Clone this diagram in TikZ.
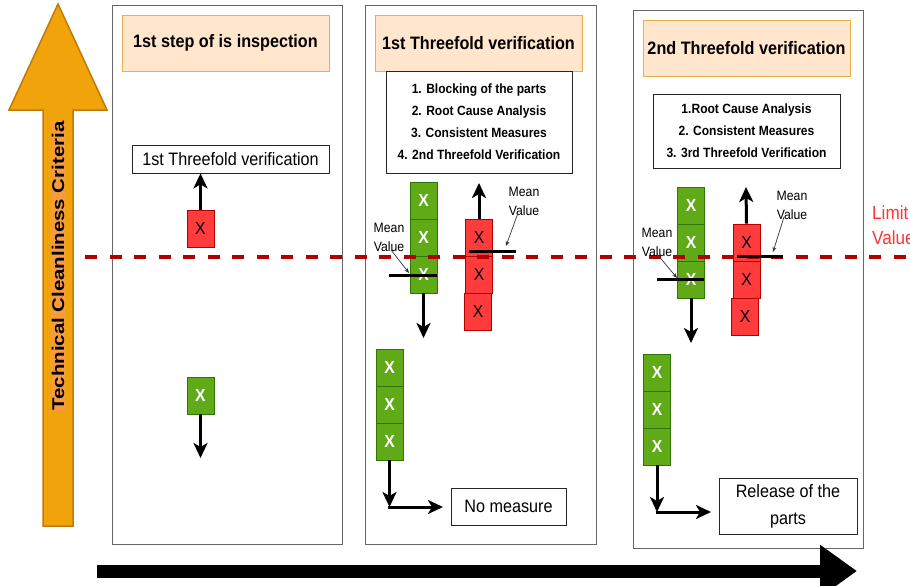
\documentclass[tikz,border=0pt]{standalone}
\usepackage{fontspec}
\setmainfont{Liberation Sans}
\newfontfamily\narrowfont[FakeStretch=0.9]{Liberation Sans}
\newfontfamily\wideboldfont[FakeStretch=1.2]{Liberation Sans}
\usetikzlibrary{arrows.meta}
\definecolor{panelgray}{HTML}{666666}
\definecolor{hdrfill}{HTML}{FFE6CC}
\definecolor{hdrborder}{HTML}{E8B04A}
\definecolor{gfill}{HTML}{60A917}
\definecolor{gborder}{HTML}{2D7600}
\definecolor{rfill}{HTML}{FF3B3B}
\definecolor{rborder}{HTML}{B20000}
\definecolor{limitred}{HTML}{B20000}
\definecolor{limittext}{HTML}{FF3333}
\definecolor{orfill}{HTML}{F0A30A}
\definecolor{orborder}{HTML}{C27A06}
\definecolor{ortextbg}{HTML}{F89B3C}
\tikzset{
  panel/.style={draw=panelgray, line width=1pt, fill=white, inner sep=0pt},
  header/.style={draw=hdrborder, fill=hdrfill, line width=0.8pt, inner sep=0pt,
    font=\narrowfont\bfseries\fontsize{18}{21}\selectfont},
  listbox/.style={draw=black!85, fill=white, line width=0.8pt, inner sep=0pt, align=center,
    font=\narrowfont\bfseries\fontsize{13.4}{22}\selectfont},
  plainbox/.style={draw=black!85, fill=white, line width=0.8pt, inner sep=0pt, align=center,
    font=\narrowfont\fontsize{18}{27}\selectfont},
  gcell/.style={draw=gborder, fill=gfill, line width=0.6pt, minimum width=27pt, minimum height=37pt,
    inner sep=0pt, text=white, font=\narrowfont\bfseries\fontsize{17.5}{17.5}\selectfont},
  rcell/.style={draw=rborder, fill=rfill, line width=0.6pt, minimum width=27pt, minimum height=37pt,
    inner sep=0pt, text=black, font=\narrowfont\fontsize{17.5}{17.5}\selectfont},
  arr/.style={line width=3pt, -{Stealth[length=15pt,width=14pt,inset=4pt]}},
  meanline/.style={line width=3pt, draw=black},
  leader/.style={line width=0.7pt, draw=black!80, -{Stealth[length=5pt,width=4pt]}},
  meanlabel/.style={align=center, inner sep=0pt, font=\narrowfont\fontsize{13.6}{19}\selectfont},
  limitline/.style={draw=limitred, line width=4pt, dash pattern=on 12pt off 12.5pt},
}
\begin{document}
\begin{tikzpicture}[x=1pt,y=-1pt]
\useasboundingbox (0,0) rectangle (910,586);

% orange axis arrow
\filldraw[draw=orborder, fill=orfill, line width=1.5pt, line join=miter]
  (58,4) -- (107,110) -- (73,110) -- (73,526) -- (43,526) -- (43,110) -- (9,110) -- cycle;
\node[rotate=90, fill=ortextbg, inner sep=1pt, font=\wideboldfont\bfseries\fontsize{17}{17}\selectfont] (axis) at (58,266) {Technical Cleanliness Criteria};

% panels
\node[panel, minimum width=230pt, minimum height=538pt] (p1) at (227,275) {};
\node[panel, minimum width=231pt, minimum height=538pt] (p2) at (480.5,275) {};
\node[panel, minimum width=230pt, minimum height=537pt] (p3) at (748,279.5) {};

% headers
\node[header, minimum width=207pt, minimum height=56pt] (h1) at (225.5,43) {1st step of is inspection};
\node[header, minimum width=207pt, minimum height=56pt] (h2) at (478.5,43) {1st Threefold verification};
\node[header, minimum width=207pt, minimum height=56pt] (h3) at (746.5,48) {2nd Threefold verification};

% lists
\node[listbox, minimum width=186pt, minimum height=102pt] (l2) at (479,122)
  {1. Blocking of the parts\\2. Root Cause Analysis\\3. Consistent Measures\\4. 2nd Threefold Verification};
\node[listbox, minimum width=187pt, minimum height=74pt] (l3) at (746.5,131)
  {1.Root Cause Analysis\\2. Consistent Measures\\3. 3rd Threefold Verification};

% panel 1
\node[plainbox, minimum width=197pt, minimum height=28pt] (t1) at (230.5,159) {1st Threefold verification};
\node[rcell, minimum height=37pt] (r1) at (200.5,228.5) {X};
\node[gcell, minimum height=37pt] (g1) at (200.5,395.5) {X};
\coordinate (g1end) at (200.5,458);
\draw[arr] (r1.north) -- (r1.north |- t1.south);
\draw[arr] (g1.south) -- (g1end);

% panel 2 columns
\node[gcell] (g2a) at (423.5,200.5) {X};
\node[gcell] (g2b) at (423.5,237.5) {X};
\node[gcell] (g2c) at (423.5,274.5) {X};
\node[rcell] (r2a) at (479,237.5) {X};
\node[rcell] (r2b) at (479,274.5) {X};
\node[rcell] (r2c) at (478,311.5) {X};
\coordinate (g2end) at (423.5,338);
\coordinate (r2end) at (479,183);
\draw[arr] (g2c.south) -- (g2end);
\draw[arr] (r2a.north) -- (r2end);

\node[gcell] (g2d) at (389.5,367.5) {X};
\node[gcell] (g2e) at (389.5,404.5) {X};
\node[gcell] (g2f) at (389.5,441.5) {X};
\node[plainbox, minimum width=115pt, minimum height=37pt] (nm) at (508.5,506.5) {No measure};
\coordinate (c2) at (389.5,507);
\coordinate (c2end) at (443,507);
\draw[arr] (g2f.south) -- (c2);
\draw[arr, line cap=rect] (c2) -- (c2end);

% panel 3 columns
\node[gcell] (g3a) at (691,205.5) {X};
\node[gcell] (g3b) at (691,242.5) {X};
\node[gcell] (g3c) at (691,279.5) {X};
\node[rcell] (r3a) at (746.5,242.5) {X};
\node[rcell] (r3b) at (746.5,279.5) {X};
\node[rcell] (r3c) at (745,316.5) {X};
\coordinate (g3end) at (691,343);
\coordinate (r3end) at (746,187);
\draw[arr] (g3c.south) -- (g3end);
\draw[arr] (r3a.north) -- (r3end);

\node[gcell] (g3d) at (657,372.5) {X};
\node[gcell] (g3e) at (657,409.5) {X};
\node[gcell] (g3f) at (657,446.5) {X};
\node[plainbox, minimum width=138pt, minimum height=56pt] (rel) at (788,506) {Release of the\\parts};
\coordinate (c3) at (657,512);
\coordinate (c3end) at (711,512);
\draw[arr] (g3f.south) -- (c3);
\draw[arr, line cap=rect] (c3) -- (c3end);

% limit line
\coordinate (lim0) at (85,257);
\coordinate (lim1) at (915,257);
\draw[limitline] (lim0) -- (lim1);
\node[anchor=west, align=left, inner sep=0pt, text=limittext, font=\narrowfont\fontsize{19}{25}\selectfont] (limit) at (872,225) {Limit\\Value};

% mean lines and labels
\coordinate (m2ga) at (389,275); \coordinate (m2gb) at (437,275);
\coordinate (m2ra) at (469,251); \coordinate (m2rb) at (516,251);
\coordinate (m3ga) at (657,279); \coordinate (m3gb) at (704,279);
\coordinate (m3ra) at (737,256); \coordinate (m3rb) at (783,256);
\draw[meanline] (m2ga) -- (m2gb);
\draw[meanline] (m2ra) -- (m2rb);
\draw[meanline] (m3ga) -- (m3gb);
\draw[meanline] (m3ra) -- (m3rb);

\node[meanlabel] (mv2g) at (389,237.5) {Mean\\Value};
\node[meanlabel] (mv2r) at (524,201.5) {Mean\\Value};
\node[meanlabel] (mv3g) at (657,242.5) {Mean\\Value};
\node[meanlabel] (mv3r) at (792,205.5) {Mean\\Value};
\coordinate (lt2g) at (409,273);
\coordinate (lt2r) at (506,246);
\coordinate (lt3g) at (677,278);
\coordinate (lt3r) at (773,252);
\draw[leader] ([xshift=2pt,yshift=2pt]mv2g.south) -- (lt2g);
\draw[leader] ([xshift=-6pt,yshift=3pt]mv2r.south) -- (lt2r);
\draw[leader] ([xshift=0pt,yshift=3pt]mv3g.south) -- (lt3g);
\draw[leader] ([xshift=-8pt,yshift=3pt]mv3r.south) -- (lt3r);

% time arrow
\coordinate (t0) at (97,571);
\coordinate (t1e) at (857,571);
\draw[line width=13pt, -{Triangle[length=37pt,width=50pt]}] (t0) -- (t1e);
\end{tikzpicture}
\end{document}
